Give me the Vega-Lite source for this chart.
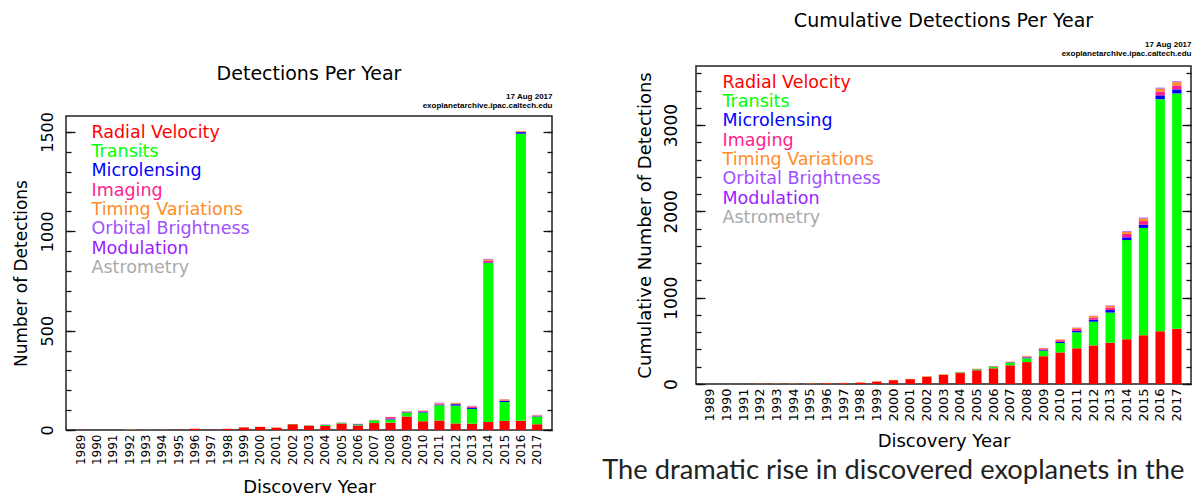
{
  "$schema": "https://vega.github.io/schema/vega-lite/v6.json",
  "background": "white",
  "padding": {"left": 11, "top": 3, "right": 0, "bottom": 0},
  "spacing": 46,
  "datasets": {
    "methods": [
      {"method": "Radial Velocity", "rank": 1},
      {"method": "Transits", "rank": 2},
      {"method": "Microlensing", "rank": 3},
      {"method": "Imaging", "rank": 4},
      {"method": "Timing Variations", "rank": 5},
      {"method": "Orbital Brightness", "rank": 6},
      {"method": "Modulation", "rank": 7},
      {"method": "Astrometry", "rank": 8}
    ],
    "perYear": [
      {"year": 1989, "method": "Radial Velocity", "n": 1},
      {"year": 1992, "method": "Timing Variations", "n": 2},
      {"year": 1993, "method": "Timing Variations", "n": 1},
      {"year": 1994, "method": "Timing Variations", "n": 1},
      {"year": 1995, "method": "Radial Velocity", "n": 1},
      {"year": 1996, "method": "Radial Velocity", "n": 6},
      {"year": 1997, "method": "Radial Velocity", "n": 1},
      {"year": 1998, "method": "Radial Velocity", "n": 6},
      {"year": 1999, "method": "Radial Velocity", "n": 13},
      {"year": 2000, "method": "Radial Velocity", "n": 16},
      {"year": 2001, "method": "Radial Velocity", "n": 12},
      {"year": 2002, "method": "Radial Velocity", "n": 29},
      {"year": 2002, "method": "Transits", "n": 1},
      {"year": 2003, "method": "Radial Velocity", "n": 22},
      {"year": 2003, "method": "Transits", "n": 1},
      {"year": 2004, "method": "Radial Velocity", "n": 20},
      {"year": 2004, "method": "Transits", "n": 5},
      {"year": 2004, "method": "Microlensing", "n": 1},
      {"year": 2004, "method": "Imaging", "n": 1},
      {"year": 2005, "method": "Radial Velocity", "n": 32},
      {"year": 2005, "method": "Transits", "n": 3},
      {"year": 2005, "method": "Microlensing", "n": 1},
      {"year": 2005, "method": "Imaging", "n": 1},
      {"year": 2006, "method": "Radial Velocity", "n": 23},
      {"year": 2006, "method": "Transits", "n": 5},
      {"year": 2006, "method": "Microlensing", "n": 2},
      {"year": 2006, "method": "Imaging", "n": 1},
      {"year": 2007, "method": "Radial Velocity", "n": 35},
      {"year": 2007, "method": "Transits", "n": 14},
      {"year": 2007, "method": "Imaging", "n": 1},
      {"year": 2007, "method": "Timing Variations", "n": 1},
      {"year": 2008, "method": "Radial Velocity", "n": 37},
      {"year": 2008, "method": "Transits", "n": 16},
      {"year": 2008, "method": "Microlensing", "n": 4},
      {"year": 2008, "method": "Imaging", "n": 8},
      {"year": 2008, "method": "Timing Variations", "n": 1},
      {"year": 2009, "method": "Radial Velocity", "n": 68},
      {"year": 2009, "method": "Transits", "n": 20},
      {"year": 2009, "method": "Microlensing", "n": 2},
      {"year": 2009, "method": "Imaging", "n": 3},
      {"year": 2009, "method": "Timing Variations", "n": 1},
      {"year": 2010, "method": "Radial Velocity", "n": 44},
      {"year": 2010, "method": "Transits", "n": 44},
      {"year": 2010, "method": "Microlensing", "n": 4},
      {"year": 2010, "method": "Imaging", "n": 4},
      {"year": 2010, "method": "Timing Variations", "n": 2},
      {"year": 2011, "method": "Radial Velocity", "n": 48},
      {"year": 2011, "method": "Transits", "n": 76},
      {"year": 2011, "method": "Microlensing", "n": 3},
      {"year": 2011, "method": "Imaging", "n": 3},
      {"year": 2011, "method": "Timing Variations", "n": 4},
      {"year": 2011, "method": "Orbital Brightness", "n": 2},
      {"year": 2011, "method": "Modulation", "n": 1},
      {"year": 2012, "method": "Radial Velocity", "n": 33},
      {"year": 2012, "method": "Transits", "n": 90},
      {"year": 2012, "method": "Microlensing", "n": 7},
      {"year": 2012, "method": "Imaging", "n": 2},
      {"year": 2012, "method": "Timing Variations", "n": 5},
      {"year": 2013, "method": "Radial Velocity", "n": 32},
      {"year": 2013, "method": "Transits", "n": 74},
      {"year": 2013, "method": "Microlensing", "n": 5},
      {"year": 2013, "method": "Imaging", "n": 6},
      {"year": 2013, "method": "Timing Variations", "n": 2},
      {"year": 2013, "method": "Orbital Brightness", "n": 2},
      {"year": 2013, "method": "Astrometry", "n": 1},
      {"year": 2014, "method": "Radial Velocity", "n": 40},
      {"year": 2014, "method": "Transits", "n": 800},
      {"year": 2014, "method": "Microlensing", "n": 3},
      {"year": 2014, "method": "Imaging", "n": 9},
      {"year": 2014, "method": "Timing Variations", "n": 6},
      {"year": 2014, "method": "Orbital Brightness", "n": 1},
      {"year": 2014, "method": "Modulation", "n": 2},
      {"year": 2015, "method": "Radial Velocity", "n": 46},
      {"year": 2015, "method": "Transits", "n": 95},
      {"year": 2015, "method": "Microlensing", "n": 5},
      {"year": 2015, "method": "Imaging", "n": 3},
      {"year": 2015, "method": "Timing Variations", "n": 5},
      {"year": 2015, "method": "Orbital Brightness", "n": 1},
      {"year": 2016, "method": "Radial Velocity", "n": 46},
      {"year": 2016, "method": "Transits", "n": 1445},
      {"year": 2016, "method": "Microlensing", "n": 8},
      {"year": 2016, "method": "Imaging", "n": 2},
      {"year": 2016, "method": "Timing Variations", "n": 4},
      {"year": 2017, "method": "Radial Velocity", "n": 29},
      {"year": 2017, "method": "Transits", "n": 38},
      {"year": 2017, "method": "Microlensing", "n": 2},
      {"year": 2017, "method": "Imaging", "n": 2},
      {"year": 2017, "method": "Timing Variations", "n": 3},
      {"year": 2017, "method": "Orbital Brightness", "n": 2}
    ],
    "cumulative": [
      {"year": 1989, "method": "Radial Velocity", "n": 1},
      {"year": 1990, "method": "Radial Velocity", "n": 1},
      {"year": 1991, "method": "Radial Velocity", "n": 1},
      {"year": 1992, "method": "Radial Velocity", "n": 1},
      {"year": 1993, "method": "Radial Velocity", "n": 1},
      {"year": 1994, "method": "Radial Velocity", "n": 1},
      {"year": 1995, "method": "Radial Velocity", "n": 2},
      {"year": 1996, "method": "Radial Velocity", "n": 8},
      {"year": 1997, "method": "Radial Velocity", "n": 9},
      {"year": 1998, "method": "Radial Velocity", "n": 15},
      {"year": 1999, "method": "Radial Velocity", "n": 28},
      {"year": 2000, "method": "Radial Velocity", "n": 44},
      {"year": 2001, "method": "Radial Velocity", "n": 56},
      {"year": 2002, "method": "Radial Velocity", "n": 85},
      {"year": 2003, "method": "Radial Velocity", "n": 107},
      {"year": 2004, "method": "Radial Velocity", "n": 127},
      {"year": 2005, "method": "Radial Velocity", "n": 159},
      {"year": 2006, "method": "Radial Velocity", "n": 182},
      {"year": 2007, "method": "Radial Velocity", "n": 217},
      {"year": 2008, "method": "Radial Velocity", "n": 254},
      {"year": 2009, "method": "Radial Velocity", "n": 322},
      {"year": 2010, "method": "Radial Velocity", "n": 366},
      {"year": 2011, "method": "Radial Velocity", "n": 414},
      {"year": 2012, "method": "Radial Velocity", "n": 447},
      {"year": 2013, "method": "Radial Velocity", "n": 479},
      {"year": 2014, "method": "Radial Velocity", "n": 519},
      {"year": 2015, "method": "Radial Velocity", "n": 565},
      {"year": 2016, "method": "Radial Velocity", "n": 611},
      {"year": 2017, "method": "Radial Velocity", "n": 640},
      {"year": 2002, "method": "Transits", "n": 1},
      {"year": 2003, "method": "Transits", "n": 2},
      {"year": 2004, "method": "Transits", "n": 7},
      {"year": 2005, "method": "Transits", "n": 10},
      {"year": 2006, "method": "Transits", "n": 15},
      {"year": 2007, "method": "Transits", "n": 29},
      {"year": 2008, "method": "Transits", "n": 45},
      {"year": 2009, "method": "Transits", "n": 65},
      {"year": 2010, "method": "Transits", "n": 109},
      {"year": 2011, "method": "Transits", "n": 185},
      {"year": 2012, "method": "Transits", "n": 275},
      {"year": 2013, "method": "Transits", "n": 349},
      {"year": 2014, "method": "Transits", "n": 1149},
      {"year": 2015, "method": "Transits", "n": 1244},
      {"year": 2016, "method": "Transits", "n": 2689},
      {"year": 2017, "method": "Transits", "n": 2727},
      {"year": 2004, "method": "Microlensing", "n": 1},
      {"year": 2005, "method": "Microlensing", "n": 2},
      {"year": 2006, "method": "Microlensing", "n": 4},
      {"year": 2007, "method": "Microlensing", "n": 4},
      {"year": 2008, "method": "Microlensing", "n": 8},
      {"year": 2009, "method": "Microlensing", "n": 10},
      {"year": 2010, "method": "Microlensing", "n": 14},
      {"year": 2011, "method": "Microlensing", "n": 17},
      {"year": 2012, "method": "Microlensing", "n": 24},
      {"year": 2013, "method": "Microlensing", "n": 29},
      {"year": 2014, "method": "Microlensing", "n": 32},
      {"year": 2015, "method": "Microlensing", "n": 37},
      {"year": 2016, "method": "Microlensing", "n": 45},
      {"year": 2017, "method": "Microlensing", "n": 47},
      {"year": 2004, "method": "Imaging", "n": 1},
      {"year": 2005, "method": "Imaging", "n": 2},
      {"year": 2006, "method": "Imaging", "n": 3},
      {"year": 2007, "method": "Imaging", "n": 4},
      {"year": 2008, "method": "Imaging", "n": 12},
      {"year": 2009, "method": "Imaging", "n": 15},
      {"year": 2010, "method": "Imaging", "n": 19},
      {"year": 2011, "method": "Imaging", "n": 22},
      {"year": 2012, "method": "Imaging", "n": 24},
      {"year": 2013, "method": "Imaging", "n": 30},
      {"year": 2014, "method": "Imaging", "n": 39},
      {"year": 2015, "method": "Imaging", "n": 42},
      {"year": 2016, "method": "Imaging", "n": 44},
      {"year": 2017, "method": "Imaging", "n": 46},
      {"year": 1992, "method": "Timing Variations", "n": 2},
      {"year": 1993, "method": "Timing Variations", "n": 3},
      {"year": 1994, "method": "Timing Variations", "n": 4},
      {"year": 1995, "method": "Timing Variations", "n": 4},
      {"year": 1996, "method": "Timing Variations", "n": 4},
      {"year": 1997, "method": "Timing Variations", "n": 4},
      {"year": 1998, "method": "Timing Variations", "n": 4},
      {"year": 1999, "method": "Timing Variations", "n": 4},
      {"year": 2000, "method": "Timing Variations", "n": 4},
      {"year": 2001, "method": "Timing Variations", "n": 4},
      {"year": 2002, "method": "Timing Variations", "n": 4},
      {"year": 2003, "method": "Timing Variations", "n": 4},
      {"year": 2004, "method": "Timing Variations", "n": 4},
      {"year": 2005, "method": "Timing Variations", "n": 4},
      {"year": 2006, "method": "Timing Variations", "n": 4},
      {"year": 2007, "method": "Timing Variations", "n": 5},
      {"year": 2008, "method": "Timing Variations", "n": 6},
      {"year": 2009, "method": "Timing Variations", "n": 7},
      {"year": 2010, "method": "Timing Variations", "n": 9},
      {"year": 2011, "method": "Timing Variations", "n": 13},
      {"year": 2012, "method": "Timing Variations", "n": 18},
      {"year": 2013, "method": "Timing Variations", "n": 20},
      {"year": 2014, "method": "Timing Variations", "n": 26},
      {"year": 2015, "method": "Timing Variations", "n": 31},
      {"year": 2016, "method": "Timing Variations", "n": 35},
      {"year": 2017, "method": "Timing Variations", "n": 38},
      {"year": 2011, "method": "Orbital Brightness", "n": 2},
      {"year": 2012, "method": "Orbital Brightness", "n": 2},
      {"year": 2013, "method": "Orbital Brightness", "n": 4},
      {"year": 2014, "method": "Orbital Brightness", "n": 5},
      {"year": 2015, "method": "Orbital Brightness", "n": 6},
      {"year": 2016, "method": "Orbital Brightness", "n": 6},
      {"year": 2017, "method": "Orbital Brightness", "n": 8},
      {"year": 2011, "method": "Modulation", "n": 1},
      {"year": 2012, "method": "Modulation", "n": 1},
      {"year": 2013, "method": "Modulation", "n": 1},
      {"year": 2014, "method": "Modulation", "n": 3},
      {"year": 2015, "method": "Modulation", "n": 3},
      {"year": 2016, "method": "Modulation", "n": 3},
      {"year": 2017, "method": "Modulation", "n": 3},
      {"year": 2013, "method": "Astrometry", "n": 1},
      {"year": 2014, "method": "Astrometry", "n": 1},
      {"year": 2015, "method": "Astrometry", "n": 1},
      {"year": 2016, "method": "Astrometry", "n": 1},
      {"year": 2017, "method": "Astrometry", "n": 1}
    ]
  },
  "hconcat": [
    {
      "spacing": 0,
      "vconcat": [
        {
          "width": 10,
          "height": 56,
          "data": {"values": [{}]},
          "mark": {"type": "point", "opacity": 0},
          "view": {"stroke": "transparent"}
        },
        {
          "width": 486,
          "height": 314,
          "title": {"text": "Detections Per Year", "frame": "group", "offset": 9},
          "data": {"name": "perYear"},
          "transform": [{"lookup": "method", "from": {"data": {"name": "methods"}, "key": "method", "fields": ["rank"]}}],
          "layer": [
            {
              "mark": {"type": "bar"},
              "encoding": {
                "x": {"field": "year", "type": "ordinal",
                  "scale": {"domain": [1989,1990,1991,1992,1993,1994,1995,1996,1997,1998,1999,2000,2001,2002,2003,2004,2005,2006,2007,2008,2009,2010,2011,2012,2013,2014,2015,2016,2017], "paddingInner": 0.38, "paddingOuter": 0.6},
                  "axis": {"orient": "bottom", "labelAngle": 270, "labelFontSize": 12, "labelPadding": 4, "ticks": false, "labelOverlap": false, "title": "Discovery Year", "titleFontSize": 18, "titlePadding": 14}},
                "y": {"field": "n", "type": "quantitative", "aggregate": "sum", "stack": "zero",
                  "scale": {"domain": [0, 1580], "nice": false, "zero": true},
                  "axis": {"orient": "left", "values": [0, 500, 1000, 1500], "format": "d", "ticks": false, "labelAngle": 270, "labelFontSize": 16, "labelPadding": 11, "labelFlush": false, "labelOverlap": false, "title": "Number of Detections", "titleFontSize": 17, "titlePadding": 9}},
                "color": {"field": "method", "type": "nominal",
                  "scale": {"domain": ["Radial Velocity","Transits","Microlensing","Imaging","Timing Variations","Orbital Brightness","Modulation","Astrometry"],
                            "range": ["#ff0000","#00ff00","#0000ff","#ff1e8c","#ff8c28","#a050ff","#9a1eff","#aaaaaa"]},
                  "legend": {"orient": "top-left", "title": null, "offset": 8, "padding": 0, "symbolSize": 0, "symbolOpacity": 0, "symbolStrokeWidth": 0, "labelOffset": 0, "labelFontSize": 17.5, "labelFont": "DejaVu Sans", "rowPadding": 0.3, "labelLimit": 400,
                    "labelColor": {"expr": "datum.value === 'Radial Velocity' ? '#ff0000' : datum.value === 'Transits' ? '#00ff00' : datum.value === 'Microlensing' ? '#0000ff' : datum.value === 'Imaging' ? '#ff1e8c' : datum.value === 'Timing Variations' ? '#ff8c28' : datum.value === 'Orbital Brightness' ? '#a050ff' : datum.value === 'Modulation' ? '#9a1eff' : '#aaaaaa'"}}},
                "order": {"field": "rank", "type": "quantitative", "aggregate": "min", "sort": "ascending"}
              }
            },
            {
              "mark": {"type": "bar", "opacity": 0},
              "encoding": {
                "x": {"field": "year", "type": "ordinal",
                  "axis": {"orient": "top", "labels": false, "ticks": false, "title": ["17 Aug 2017", "exoplanetarchive.ipac.caltech.edu"], "titleAnchor": "end", "titleFont": "Liberation Sans", "titleFontWeight": "bold", "titleFontSize": 8, "titleLineHeight": 8.5, "titlePadding": 7}},
                "y": {"field": "n", "type": "quantitative", "scale": {"domain": [0, 1580], "nice": false},
                  "axis": {"orient": "left", "values": [0,100,200,300,400,500,600,700,800,900,1000,1100,1200,1300,1400,1500], "labels": false, "tickSize": -5, "title": null}}
              }
            },
            {
              "mark": {"type": "bar", "opacity": 0},
              "encoding": {
                "x": {"field": "year", "type": "ordinal", "axis": null},
                "y": {"field": "n", "type": "quantitative", "scale": {"domain": [0, 1580], "nice": false},
                  "axis": {"orient": "left", "values": [0, 500, 1000, 1500], "labels": false, "tickSize": -9, "title": null}}
              }
            },
            {
              "mark": {"type": "bar", "opacity": 0},
              "encoding": {
                "x": {"field": "year", "type": "ordinal", "axis": null},
                "y": {"field": "n", "type": "quantitative", "scale": {"domain": [0, 1580], "nice": false},
                  "axis": {"orient": "right", "values": [0,100,200,300,400,500,600,700,800,900,1000,1100,1200,1300,1400,1500], "labels": false, "tickSize": -5, "title": null}}
              }
            },
            {
              "mark": {"type": "bar", "opacity": 0},
              "encoding": {
                "x": {"field": "year", "type": "ordinal", "axis": null},
                "y": {"field": "n", "type": "quantitative", "scale": {"domain": [0, 1580], "nice": false},
                  "axis": {"orient": "right", "values": [0, 500, 1000, 1500], "labels": false, "tickSize": -9, "title": null}}
              }
            }
          ],
          "resolve": {"axis": {"x": "independent", "y": "independent"}}
        }
      ],
      "resolve": {"scale": {"x": "independent", "y": "independent", "color": "independent"}}
    },
    {
      "spacing": 0,
      "vconcat": [
        {
          "width": 10,
          "height": 1,
          "data": {"values": [{}]},
          "mark": {"type": "point", "opacity": 0},
          "view": {"stroke": "transparent"}
        },
        {
          "width": 495,
          "height": 318,
          "title": {"text": "Cumulative Detections Per Year", "frame": "group", "offset": 10},
          "data": {"name": "cumulative"},
          "transform": [{"lookup": "method", "from": {"data": {"name": "methods"}, "key": "method", "fields": ["rank"]}}],
          "layer": [
            {
              "mark": {"type": "bar"},
              "encoding": {
                "x": {"field": "year", "type": "ordinal",
                  "scale": {"domain": [1989,1990,1991,1992,1993,1994,1995,1996,1997,1998,1999,2000,2001,2002,2003,2004,2005,2006,2007,2008,2009,2010,2011,2012,2013,2014,2015,2016,2017], "paddingInner": 0.44, "paddingOuter": 0.57},
                  "axis": {"orient": "bottom", "labelAngle": 270, "labelFontSize": 13, "labelPadding": 4, "ticks": false, "labelOverlap": false, "title": "Discovery Year", "titleFontSize": 18, "titlePadding": 11}},
                "y": {"field": "n", "type": "quantitative", "aggregate": "sum", "stack": "zero",
                  "scale": {"domain": [0, 3685], "nice": false, "zero": true},
                  "axis": {"orient": "left", "values": [0, 1000, 2000, 3000], "format": "d", "ticks": false, "labelAngle": 270, "labelFontSize": 17, "labelPadding": 16, "labelFlush": false, "labelOverlap": false, "title": "Cumulative Number of Detections", "titleFontSize": 18, "titlePadding": 8}},
                "color": {"field": "method", "type": "nominal",
                  "scale": {"domain": ["Radial Velocity","Transits","Microlensing","Imaging","Timing Variations","Orbital Brightness","Modulation","Astrometry"],
                            "range": ["#ff0000","#00ff00","#0000ff","#ff1e8c","#ff8c28","#a050ff","#9a1eff","#aaaaaa"]},
                  "legend": {"orient": "top-left", "title": null, "offset": 8, "padding": 0, "symbolSize": 0, "symbolOpacity": 0, "symbolStrokeWidth": 0, "labelOffset": 1, "labelFontSize": 17.5, "labelFont": "DejaVu Sans", "rowPadding": 0.3, "labelLimit": 400,
                    "labelColor": {"expr": "datum.value === 'Radial Velocity' ? '#ff0000' : datum.value === 'Transits' ? '#00ff00' : datum.value === 'Microlensing' ? '#0000ff' : datum.value === 'Imaging' ? '#ff1e8c' : datum.value === 'Timing Variations' ? '#ff8c28' : datum.value === 'Orbital Brightness' ? '#a050ff' : datum.value === 'Modulation' ? '#9a1eff' : '#aaaaaa'"}}},
                "order": {"field": "rank", "type": "quantitative", "aggregate": "min", "sort": "ascending"}
              }
            },
            {
              "mark": {"type": "bar", "opacity": 0},
              "encoding": {
                "x": {"field": "year", "type": "ordinal",
                  "axis": {"orient": "top", "labels": false, "ticks": false, "title": ["17 Aug 2017", "exoplanetarchive.ipac.caltech.edu"], "titleAnchor": "end", "titleFont": "Liberation Sans", "titleFontWeight": "bold", "titleFontSize": 8, "titleLineHeight": 8.5, "titlePadding": 9}},
                "y": {"field": "n", "type": "quantitative", "scale": {"domain": [0, 3685], "nice": false},
                  "axis": {"orient": "left", "values": [0,200,400,600,800,1000,1200,1400,1600,1800,2000,2200,2400,2600,2800,3000,3200,3400,3600], "labels": false, "tickSize": -5, "title": null}}
              }
            },
            {
              "mark": {"type": "bar", "opacity": 0},
              "encoding": {
                "x": {"field": "year", "type": "ordinal", "axis": null},
                "y": {"field": "n", "type": "quantitative", "scale": {"domain": [0, 3685], "nice": false},
                  "axis": {"orient": "left", "values": [0, 1000, 2000, 3000], "labels": false, "tickSize": -9, "title": null}}
              }
            },
            {
              "mark": {"type": "bar", "opacity": 0},
              "encoding": {
                "x": {"field": "year", "type": "ordinal", "axis": null},
                "y": {"field": "n", "type": "quantitative", "scale": {"domain": [0, 3685], "nice": false},
                  "axis": {"orient": "right", "values": [0,200,400,600,800,1000,1200,1400,1600,1800,2000,2200,2400,2600,2800,3000,3200,3400,3600], "labels": false, "tickSize": -5, "title": null}}
              }
            },
            {
              "mark": {"type": "bar", "opacity": 0},
              "encoding": {
                "x": {"field": "year", "type": "ordinal",
                  "axis": {"orient": "bottom", "labels": false, "ticks": false, "title": "The dramatic rise in discovered exoplanets in the", "titleFont": "Lato", "titleFontSize": 27.3, "titleFontWeight": "normal", "titleColor": "#222", "titlePadding": 72, "titleAnchor": "end", "titleX": 488}},
                "y": {"field": "n", "type": "quantitative", "scale": {"domain": [0, 3685], "nice": false},
                  "axis": {"orient": "right", "values": [0, 1000, 2000, 3000], "labels": false, "tickSize": -9, "title": null}}
              }
            }
          ],
          "resolve": {"axis": {"x": "independent", "y": "independent"}}
        }
      ],
      "resolve": {"scale": {"x": "independent", "y": "independent", "color": "independent"}}
    }
  ],
  "resolve": {"scale": {"x": "independent", "y": "independent", "color": "independent"}, "legend": {"color": "independent"}},
  "config": {
    "view": {"stroke": "#222", "strokeWidth": 1.5},
    "axis": {"labelFont": "DejaVu Sans", "titleFont": "DejaVu Sans", "labelColor": "#000", "titleColor": "#000", "titleFontWeight": "normal", "tickColor": "#111", "tickWidth": 1.3, "grid": false, "domain": false},
    "title": {"font": "DejaVu Sans", "fontWeight": "normal", "color": "#000", "fontSize": 19}
  }
}
